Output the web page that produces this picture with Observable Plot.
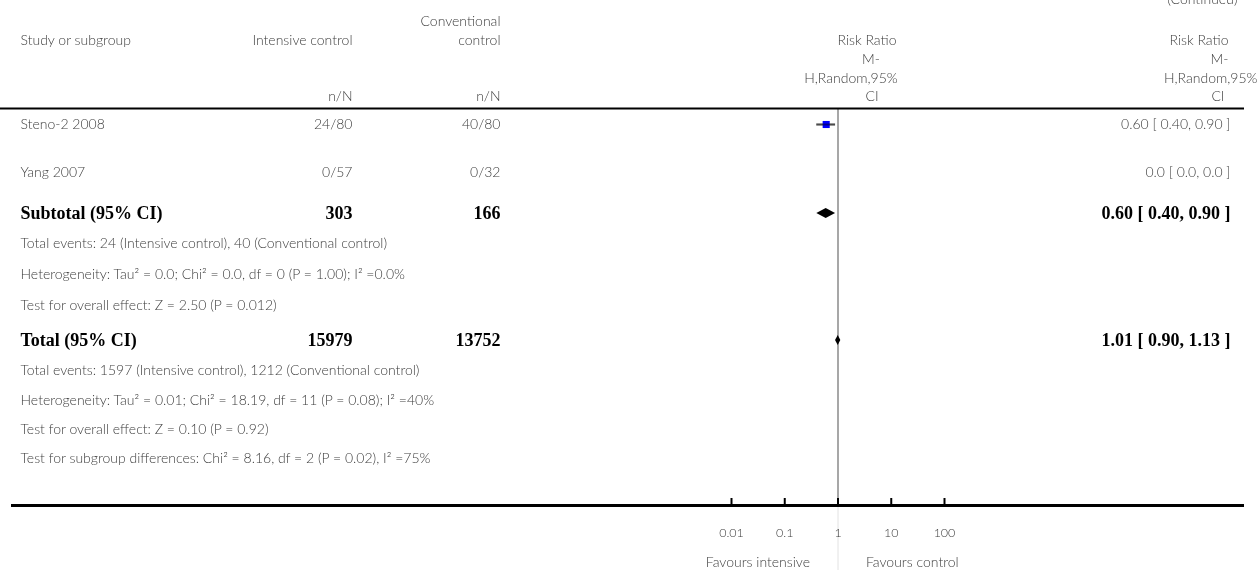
<!DOCTYPE html>
<html><head><meta charset="utf-8">
<script src="https://cdn.jsdelivr.net/npm/d3@7"></script>
<script src="https://cdn.jsdelivr.net/npm/@observablehq/plot@0.6"></script>
<style>
html,body{margin:0;padding:0;background:#fff;}
#chart svg{display:block;}
</style>
</head><body><div id="chart"></div>
<script>
// ---------------- DATA ----------------
const studies = ["Steno-2 2008", "Yang 2007"];
const intensiveN = ["24/80", "0/57"];
const conventionalN = ["40/80", "0/32"];
const studyRR = [0.60, null];
const studyLow = [0.40, null];
const studyHigh = [0.90, null];
const studyRRText = ["0.60 [ 0.40, 0.90 ]", "0.0 [ 0.0, 0.0 ]"];

const summaryLabels = ["Subtotal (95% CI)", "Total (95% CI)"];
const summaryIntensive = ["303", "15979"];
const summaryConventional = ["166", "13752"];
const summaryRR = [0.60, 1.01];
const summaryLow = [0.40, 0.90];
const summaryHigh = [0.90, 1.13];
const summaryRRText = ["0.60 [ 0.40, 0.90 ]", "1.01 [ 0.90, 1.13 ]"];

const subtotalNotes = [
  "Total events: 24 (Intensive control), 40 (Conventional control)",
  "Heterogeneity: Tau\u00B2 = 0.0; Chi\u00B2 = 0.0, df = 0 (P = 1.00); I\u00B2 =0.0%",
  "Test for overall effect: Z = 2.50 (P = 0.012)"
];
const totalNotes = [
  "Total events: 1597 (Intensive control), 1212 (Conventional control)",
  "Heterogeneity: Tau\u00B2 = 0.01; Chi\u00B2 = 18.19, df = 11 (P = 0.08); I\u00B2 =40%",
  "Test for overall effect: Z = 0.10 (P = 0.92)",
  "Test for subgroup differences: Chi\u00B2 = 8.16, df = 2 (P = 0.02), I\u00B2 =75%"
];

const axisTicks = [0.01, 0.1, 1, 10, 100];
const tickLabels = ["0.01", "0.1", "1", "10", "100"];
const favourLabels = ["Favours intensive", "Favours control"];
const headerStudy = ["Study or subgroup"];
const headerIntensive = ["Intensive control", "n/N"];
const headerConventional = ["Conventional", "control", "n/N"];
const headerRR = ["Risk Ratio", "M-", "H,Random,95%", "CI"];
const continuedText = ["(Continued)"];

// ---------------- LAYOUT (line units, 1 unit = 30px) ----------------
const U = 30;
const L = px => px / U;
const yHeaderRule = L(108);
const yStudy = [L(124), L(172)];
const ySummary = [L(213), L(340)];
const ySubNotes = [L(243), L(274), L(305)];
const yTotNotes = [L(370), L(400), L(429), L(458)];
const yAxis = L(505);
const COL_A = 352, COL_B = 500;

const FONT = "Lato, 'Open Sans', sans-serif";
const BOLD = "'Liberation Serif', 'DejaVu Serif', serif";
const TXT = "#404040";
const FS = 14;

const studyRows = studies.map((s, i) => ({
  study: s, a: intensiveN[i], b: conventionalN[i], rr: studyRR[i],
  lo: studyLow[i], hi: studyHigh[i], txt: studyRRText[i], y: yStudy[i]
}));
const summaryRows = summaryLabels.map((s, i) => ({
  label: s, a: summaryIntensive[i], b: summaryConventional[i], rr: summaryRR[i],
  lo: summaryLow[i], hi: summaryHigh[i], txt: summaryRRText[i], y: ySummary[i]
}));
const noteRows = [
  ...subtotalNotes.map((t, i) => ({t, y: ySubNotes[i]})),
  ...totalNotes.map((t, i) => ({t, y: yTotNotes[i]}))
];
const estimable = studyRows.filter(d => d.rr != null);
const H = L(5);
const diamond = summaryRows.flatMap((d, i) => [
  {k: i, x: d.lo, y1: d.y, y2: d.y},
  {k: i, x: d.rr, y1: d.y - H, y2: d.y + H},
  {k: i, x: d.hi, y1: d.y, y2: d.y}
]);

const headA = headerIntensive.map((t, i) => ({t, y: L([40, 96][i])}));
const headB = headerConventional.map((t, i) => ({t, y: L([21, 40, 96][i])}));
const headRRy = [40, 59, 78, 96];
const midDx = [29, 33, 13, 34];       // per-line centring offsets (px) from RR = 1
const rightDx = [-16, -16, 13, -20];  // per-line right-edge offsets (px) from frame edge
const rrHeadMid = headerRR.map((t, i) => ({t, y: L(headRRy[i]), i}));
const txt = (data, o) => Plot.text(data, {fill: TXT, fontSize: FS, fontFamily: FONT, fontWeight: 300, ...o});
const bold = (data, o) => Plot.text(data, {fill: "#000", fontSize: 18, fontWeight: "bold", fontFamily: BOLD, ...o});

const chart = Plot.plot({
  width: 1259,
  height: 570,
  marginLeft: 0, marginRight: 15, marginTop: 0, marginBottom: 0,
  style: {background: "#fff", overflow: "visible"},
  x: {type: "log", domain: [0.01, 100], range: [731, 944], axis: null},
  y: {domain: [0, 19], range: [0, 570], axis: null},
  marks: [
    // reference line at RR = 1
    Plot.ruleX([1], {y1: yHeaderRule, y2: yAxis, stroke: "#8a8a8a", strokeWidth: 1.5}),
    Plot.ruleX([1], {y1: yAxis, y2: 19, stroke: "#e2e2e2", strokeWidth: 1}),
    // header rule and axis rule
    Plot.ruleY([yHeaderRule], {stroke: "#000", strokeWidth: 2}),
    Plot.ruleY([yAxis], {stroke: "#000", strokeWidth: 3, insetLeft: 11}),
    // axis ticks & labels
    Plot.ruleX(axisTicks, {x: d => d, y1: yAxis - L(7), y2: yAxis, stroke: "#000", strokeWidth: 2}),
    txt(axisTicks, {x: d => d, y: L(532), text: (d, i) => tickLabels[i], fontSize: 12.5}),
    txt([favourLabels[0]], {x: 1, y: L(562), text: d => d, textAnchor: "end", dx: -28}),
    txt([favourLabels[1]], {x: 1, y: L(562), text: d => d, textAnchor: "start", dx: 28}),
    // continued (clipped at top)
    txt(continuedText, {frameAnchor: "right", y: L(3), text: d => d, textAnchor: "end", lineAnchor: "bottom", dx: -7}),
    // header
    txt(headerStudy, {frameAnchor: "left", y: L(40), text: d => d, textAnchor: "start", dx: 20}),
    txt(headA, {frameAnchor: "left", y: "y", text: "t", textAnchor: "end", dx: COL_A}),
    txt(headB, {frameAnchor: "left", y: "y", text: "t", textAnchor: "end", dx: COL_B}),
    ...headerRR.map((t, i) => txt([t], {x: 1, y: L(headRRy[i]), text: d => d, dx: midDx[i]})),
    ...headerRR.map((t, i) => txt([t], {frameAnchor: "right", y: L(headRRy[i]), text: d => d, textAnchor: "end", dx: rightDx[i]})),
    // study rows
    txt(studyRows, {frameAnchor: "left", y: "y", text: "study", dx: 20, textAnchor: "start"}),
    txt(studyRows, {frameAnchor: "left", y: "y", text: "a", dx: COL_A, textAnchor: "end"}),
    txt(studyRows, {frameAnchor: "left", y: "y", text: "b", dx: COL_B, textAnchor: "end"}),
    txt(studyRows, {frameAnchor: "right", y: "y", text: "txt", dx: -14, textAnchor: "end"}),
    Plot.ruleY(estimable, {y: "y", x1: "lo", x2: "hi", stroke: "#8a8a8a", strokeWidth: 2}),
    Plot.dot(estimable, {x: "rr", y: "y", symbol: "square", r: 4, fill: "#0000ff", stroke: "none"}),
    Plot.ruleY(estimable, {y: "y", x1: "lo", x2: "hi", stroke: "#8a8a8a", strokeWidth: 2, mixBlendMode: "multiply"}),
    // summary rows
    bold(summaryRows, {frameAnchor: "left", y: "y", text: "label", dx: 20, textAnchor: "start"}),
    bold(summaryRows, {frameAnchor: "left", y: "y", text: "a", dx: COL_A, textAnchor: "end"}),
    bold(summaryRows, {frameAnchor: "left", y: "y", text: "b", dx: COL_B, textAnchor: "end"}),
    bold(summaryRows, {frameAnchor: "right", y: "y", text: "txt", dx: -14, textAnchor: "end"}),
    Plot.areaY(diamond, {x: "x", y1: "y1", y2: "y2", z: "k", fill: "#000"}),
    // notes
    txt(noteRows, {frameAnchor: "left", y: "y", text: "t", dx: 20, textAnchor: "start"})
  ]
});
document.getElementById("chart").appendChild(chart);
</script>
</body></html>
